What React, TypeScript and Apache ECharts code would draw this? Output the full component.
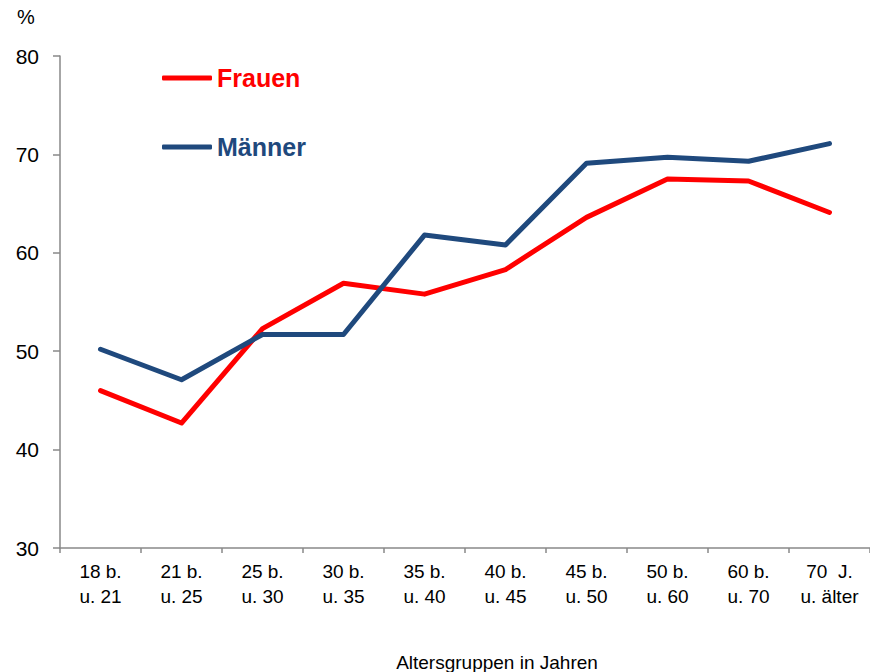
import React, { useEffect, useRef } from "react";
import * as echarts from "echarts";

const categories = [
  "18 b.\nu. 21",
  "21 b.\nu. 25",
  "25 b.\nu. 30",
  "30 b.\nu. 35",
  "35 b.\nu. 40",
  "40 b.\nu. 45",
  "45 b.\nu. 50",
  "50 b.\nu. 60",
  "60 b.\nu. 70",
  "70  J.\nu. älter",
];
const frauen = [46.0, 42.7, 52.3, 56.9, 55.8, 58.3, 63.6, 67.5, 67.3, 64.1];
const maenner = [50.2, 47.1, 51.7, 51.7, 61.8, 60.8, 69.1, 69.7, 69.3, 71.1];
const yTicks = { min: 30, max: 80, interval: 10 };

const RED = "#FF0000";
const BLUE = "#1F497D";
const AXIS = "#898989";
const FONT = "Liberation Sans, Arial, sans-serif";

export default function App() {
  const ref = useRef<HTMLDivElement>(null);
  useEffect(() => {
    if (!ref.current) return;
    const chart = echarts.init(ref.current, null, { renderer: "svg" });
    const legendCommon = {
      orient: "vertical",
      left: 162,
      padding: 0,
      itemWidth: 50,
      itemHeight: 5,
      itemGap: 0,
      icon: "roundRect",
    };
    chart.setOption({
      animation: false,
      textStyle: { fontFamily: FONT },
      grid: { left: 60, right: 0, top: 56, bottom: 124, containLabel: false },
      legend: [
        {
          ...legendCommon,
          top: 63,
          data: [{ name: "Frauen" }],
          textStyle: { color: RED, fontSize: 25, fontWeight: "bold", fontFamily: FONT, lineHeight: 30 },
        },
        {
          ...legendCommon,
          top: 132,
          data: [{ name: "Männer" }],
          textStyle: { color: BLUE, fontSize: 25, fontWeight: "bold", fontFamily: FONT, lineHeight: 30 },
        },
      ],
      xAxis: {
        type: "category",
        data: categories,
        boundaryGap: true,
        axisLine: { show: true, lineStyle: { color: AXIS, width: 1.5 } },
        axisTick: { show: true, length: 5, interval: 0, lineStyle: { color: AXIS, width: 1.5 } },
        axisLabel: {
          interval: 0,
          margin: 11,
          color: "#000",
          fontSize: 19,
          lineHeight: 25,
          fontFamily: FONT,
          align: "center",
        },
        splitLine: { show: false },
      },
      yAxis: {
        type: "value",
        min: yTicks.min,
        max: yTicks.max,
        interval: yTicks.interval,
        axisLine: { show: true, lineStyle: { color: AXIS, width: 1.5 } },
        axisTick: { show: true, length: 7, lineStyle: { color: AXIS, width: 1.5 } },
        axisLabel: { margin: 21, color: "#000", fontSize: 21, fontFamily: FONT },
        splitLine: { show: false },
      },
      graphic: [
        {
          type: "text",
          left: 17,
          top: 7,
          style: { text: "%", fontSize: 20, fontFamily: FONT, fill: "#000" },
        },
        {
          type: "text",
          x: 497,
          y: 662,
          style: {
            text: "Altersgruppen in Jahren",
            fontSize: 19,
            fontFamily: FONT,
            fill: "#000",
            align: "center",
            verticalAlign: "middle",
          },
        },
      ],
      series: [
        {
          name: "Frauen",
          type: "line",
          data: frauen,
          symbol: "none",
          lineStyle: { color: RED, width: 5, cap: "round", join: "round" },
          itemStyle: { color: RED },
        },
        {
          name: "Männer",
          type: "line",
          data: maenner,
          symbol: "none",
          lineStyle: { color: BLUE, width: 5, cap: "round", join: "round" },
          itemStyle: { color: BLUE },
        },
      ],
    });
    return () => chart.dispose();
  }, []);
  return <div ref={ref} style={{ width: 870, height: 672, position: "absolute", left: 0, top: 0 }} />;
}
